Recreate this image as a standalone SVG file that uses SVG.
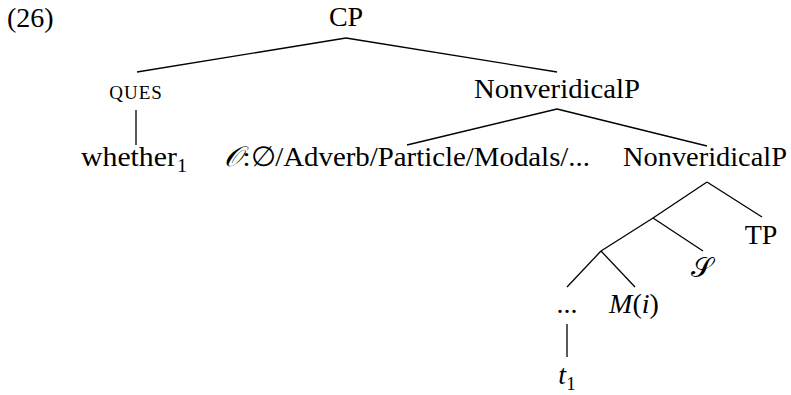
<svg xmlns="http://www.w3.org/2000/svg" width="791" height="395" viewBox="0 0 791 395">
<style>
text{font-family:"Liberation Serif","DejaVu Serif",serif;font-size:28px;fill:#000;text-anchor:middle}
.l{text-anchor:start}
.it{font-style:italic}
.sub{font-size:19px}
.sc{font-size:19px;letter-spacing:1px}
line{stroke:#000;stroke-width:1.3;fill:none}
</style>
<rect width="791" height="395" fill="#fff"/>
<text class="l" x="7" y="27" font-size="26">(26)</text>
<g id="cp"><text x="346" y="26">CP</text></g>
<g id="ques"><text class="sc" x="136" y="99">QUES</text></g>
<g id="whether"><text x="134" y="166" textLength="106" lengthAdjust="spacingAndGlyphs">whether<tspan class="sub" dy="6">1</tspan></text></g>
<g id="nvp1"><text x="557" y="98" textLength="166" lengthAdjust="spacingAndGlyphs">NonveridicalP</text></g>
<g id="op"><text x="407" y="166" textLength="366" lengthAdjust="spacingAndGlyphs"><tspan class="it" font-family="DejaVu Serif">𝒪</tspan>:∅/Adverb/Particle/Modals/...</text></g>
<g id="nvp2"><text x="705" y="166" textLength="164" lengthAdjust="spacingAndGlyphs">NonveridicalP</text></g>
<g id="tp"><text x="761" y="244">TP</text></g>
<g id="s"><text x="702" y="277" font-family="DejaVu Serif">𝒮</text></g>
<g id="dots"><text x="567" y="313">...</text></g>
<g id="mi"><text x="634" y="313"><tspan class="it">M</tspan>(<tspan class="it">i</tspan>)</text></g>
<g id="t1"><text x="567" y="384"><tspan class="it">t</tspan><tspan class="sub" dy="6">1</tspan></text></g>
<g id="connectors">
<line x1="346" y1="38" x2="137" y2="72"/>
<line x1="346" y1="38" x2="557" y2="72"/>
<line x1="136" y1="110" x2="136" y2="145"/>
<line x1="557" y1="109" x2="407" y2="145"/>
<line x1="557" y1="109" x2="707" y2="146"/>
<line x1="707" y1="182" x2="762" y2="217"/>
<line x1="707" y1="182" x2="653" y2="218"/>
<line x1="653" y1="218" x2="703" y2="251"/>
<line x1="653" y1="218" x2="601" y2="251"/>
<line x1="601" y1="251" x2="567" y2="287"/>
<line x1="601" y1="251" x2="635" y2="287"/>
<line x1="567" y1="324" x2="567" y2="357"/>
</g>
</svg>
